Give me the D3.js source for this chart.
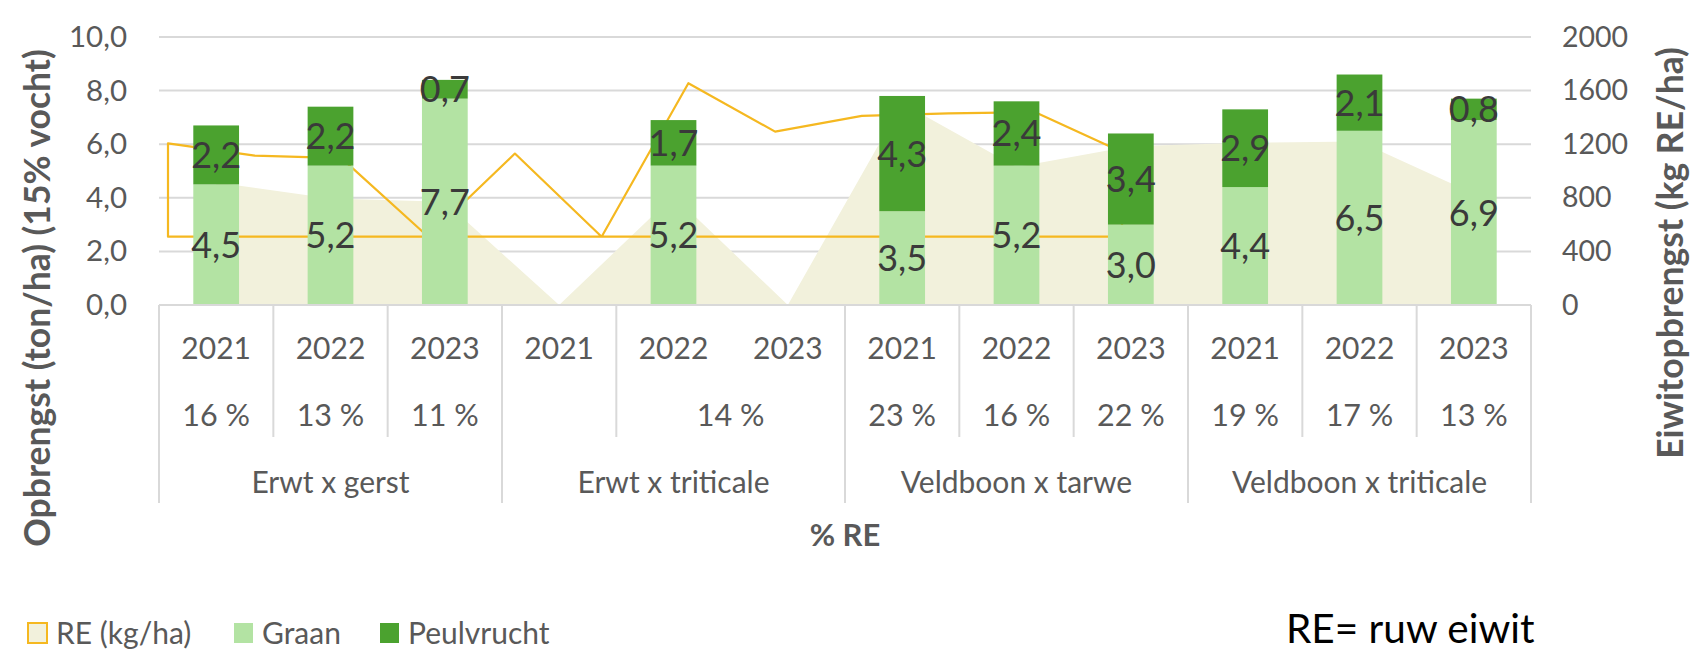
<!DOCTYPE html>
<html>
<head>
<meta charset="utf-8">
<script src="https://cdn.jsdelivr.net/npm/d3@7"></script>
<style>
  body { margin: 0; background: #fff; }
  text { font-family: Lato, "Open Sans", sans-serif; }
</style>
</head>
<body>
<script>
// categories (three levels: year, % RE, combination)
const years = ["2021", "2022", "2023", "2021", "2022", "2023", "2021", "2022", "2023", "2021", "2022", "2023"];
// null = same cell as the one before (merged label)
const pctLabels = ["16 %", "13 %", "11 %", "", "14 %", null, "23 %", "16 %", "22 %", "19 %", "17 %", "13 %"];
const groups = ["Erwt x gerst", "Erwt x triticale", "Veldboon x tarwe", "Veldboon x triticale"];

// series
const graan = [4.5, 5.2, 7.7, null, 5.2, null, 3.5, 5.2, 3.0, 4.4, 6.5, 6.9];
const peulvrucht = [2.2, 2.2, 0.7, null, 1.7, null, 4.3, 2.4, 3.4, 2.9, 2.1, 0.8];
const reKgHa = [915, 795, 770, 0, 815, 0, 1505, 1030, 1185, 1210, 1220, 830];

// ticks
const leftTicks = [0, 2, 4, 6, 8, 10];
const rightTicks = [0, 400, 800, 1200, 1600, 2000];

const width = 1705, height = 669;
const plotLeft = 159, plotRight = 1531, plotTop = 37, plotBottom = 305;
const grey = "#595959";

const svg = d3.select("body").append("svg")
    .attr("width", width)
    .attr("height", height);

const idx = d3.range(years.length);
const x = d3.scaleBand().domain(idx).range([plotLeft, plotRight]).paddingInner(0.6).paddingOuter(0.3);
const xMid = d3.scalePoint().domain(idx).range([plotLeft, plotRight]).padding(0.5);
const yL = d3.scaleLinear().domain([0, 10]).range([plotBottom, plotTop]);
const yR = d3.scaleLinear().domain([0, 2000]).range([plotBottom, plotTop]);

const comma = v => d3.format(".1f")(v).replace(".", ",");

// gridlines
svg.append("g").selectAll("line")
    .data(leftTicks)
    .enter().append("line")
    .attr("x1", plotLeft).attr("x2", plotRight)
    .attr("y1", d => yL(d)).attr("y2", d => yL(d))
    .attr("stroke", "#d9d9d9").attr("stroke-width", 2);

// RE area (right axis)
const area = d3.area()
    .x((d, i) => xMid(i))
    .y0(yR(0))
    .y1(d => yR(d));
svg.append("path")
    .datum(reKgHa)
    .attr("d", area)
    .attr("fill", "#f2f1dc");

// the yellow outline of the RE series sits shifted/squeezed in the original
const xOutline = d3.scalePoint().domain(idx).range([168, 1122]);
const yOutline = d3.scaleLinear().domain([0, 2000]).range([236.7, 32.7]);
const outline = d3.area()
    .x((d, i) => xOutline(i))
    .y0(yOutline(0))
    .y1(d => yOutline(d));
svg.append("path")
    .datum(reKgHa)
    .attr("d", outline)
    .attr("fill", "none")
    .attr("stroke", "#f5b820")
    .attr("stroke-width", 2.2)
    .attr("stroke-linejoin", "round");

// stacked bars
const rows = idx.map(i => ({ i: i, Graan: graan[i] || 0, Peulvrucht: peulvrucht[i] || 0 }));
const stack = d3.stack().keys(["Graan", "Peulvrucht"])(rows);
const colors = { Graan: "#b3e3a3", Peulvrucht: "#4ba22f" };

const layers = svg.selectAll("g.layer")
    .data(stack)
    .enter().append("g")
    .attr("class", "layer")
    .attr("fill", d => colors[d.key]);

layers.selectAll("rect")
    .data(d => d.filter(s => s[1] > s[0]))
    .enter().append("rect")
    .attr("x", d => x(d.data.i))
    .attr("width", x.bandwidth())
    .attr("y", d => yL(d[1]))
    .attr("height", d => yL(d[0]) - yL(d[1]));

layers.selectAll("text")
    .data(d => d.filter(s => s[1] > s[0]))
    .enter().append("text")
    .attr("x", d => x(d.data.i) + x.bandwidth() / 2)
    .attr("y", d => (yL(d[0]) + yL(d[1])) / 2)
    .attr("dy", "0.36em")
    .attr("text-anchor", "middle")
    .attr("fill", "#3a3a3a")
    .attr("font-size", 36)
    .text(d => comma(d[1] - d[0]));

// left axis
const axisL = svg.append("g")
    .attr("transform", `translate(${plotLeft},0)`)
    .call(d3.axisLeft(yL).tickValues(leftTicks).tickFormat(comma).tickSize(0).tickPadding(32));
axisL.select(".domain").remove();
axisL.selectAll("text").attr("font-size", 29.5).attr("fill", grey);
axisL.attr("font-family", null);

// right axis
const axisR = svg.append("g")
    .attr("transform", `translate(${plotRight},0)`)
    .call(d3.axisRight(yR).tickValues(rightTicks).tickFormat(d3.format("d")).tickSize(0).tickPadding(31));
axisR.select(".domain").remove();
axisR.selectAll("text").attr("font-size", 28.5).attr("fill", grey);
axisR.attr("font-family", null);

// category axis
svg.append("line")
    .attr("x1", plotLeft).attr("x2", plotRight)
    .attr("y1", plotBottom).attr("y2", plotBottom)
    .attr("stroke", "#d9d9d9").attr("stroke-width", 2);

const step = x.step();
const yearY = 348, pctY = 415, groupY = 482;
const pctBottom = 437, groupBottom = 503;

svg.append("g").selectAll("text")
    .data(years)
    .enter().append("text")
    .attr("x", (d, i) => xMid(i))
    .attr("y", yearY)
    .attr("dy", "0.36em")
    .attr("text-anchor", "middle")
    .attr("font-size", 30)
    .attr("fill", grey)
    .text(d => d);

// merge % cells
const pctCells = [];
pctLabels.forEach((d, i) => {
    if (d === null) pctCells[pctCells.length - 1].to = i;
    else pctCells.push({ label: d, from: i, to: i });
});

svg.append("g").selectAll("text")
    .data(pctCells)
    .enter().append("text")
    .attr("x", d => (xMid(d.from) + xMid(d.to)) / 2)
    .attr("y", pctY)
    .attr("dy", "0.36em")
    .attr("text-anchor", "middle")
    .attr("font-size", 30.5)
    .attr("fill", grey)
    .text(d => d.label);

const groupSize = years.length / groups.length;
svg.append("g").selectAll("text")
    .data(groups)
    .enter().append("text")
    .attr("x", (d, g) => plotLeft + (g + 0.5) * groupSize * step)
    .attr("y", groupY)
    .attr("dy", "0.36em")
    .attr("text-anchor", "middle")
    .attr("font-size", 30)
    .attr("fill", grey)
    .text(d => d);

// separators: short ones between % cells, long ones between groups
const sepShort = pctCells.slice(1).map(d => d.from).filter(i => i % groupSize !== 0);
svg.append("g").selectAll("line")
    .data(sepShort)
    .enter().append("line")
    .attr("x1", i => plotLeft + i * step).attr("x2", i => plotLeft + i * step)
    .attr("y1", plotBottom).attr("y2", pctBottom)
    .attr("stroke", "#d9d9d9").attr("stroke-width", 2);

svg.append("g").selectAll("line")
    .data(d3.range(groups.length + 1))
    .enter().append("line")
    .attr("x1", g => plotLeft + g * groupSize * step).attr("x2", g => plotLeft + g * groupSize * step)
    .attr("y1", plotBottom).attr("y2", groupBottom)
    .attr("stroke", "#d9d9d9").attr("stroke-width", 2);

// axis titles
svg.append("text")
    .attr("transform", `translate(37,298) rotate(-90)`)
    .attr("dy", "0.36em")
    .attr("text-anchor", "middle")
    .attr("font-size", 35.5)
    .attr("font-weight", "bold")
    .attr("fill", grey)
    .text("Opbrengst (ton/ha) (15% vocht)");

svg.append("text")
    .attr("transform", `translate(1670,253) rotate(-90)`)
    .attr("dy", "0.36em")
    .attr("text-anchor", "middle")
    .attr("font-size", 35.5)
    .attr("font-weight", "bold")
    .attr("fill", grey)
    .text("Eiwitopbrengst (kg RE/ha)");

svg.append("text")
    .attr("x", (plotLeft + plotRight) / 2)
    .attr("y", 535)
    .attr("dy", "0.36em")
    .attr("text-anchor", "middle")
    .attr("font-size", 31)
    .attr("font-weight", "bold")
    .attr("fill", grey)
    .text("% RE");

// legend
const legendItems = [
    { name: "RE (kg/ha)", fill: "#f2f1dc", stroke: "#f5b820", x: 27 },
    { name: "Graan", fill: colors.Graan, stroke: "none", x: 233 },
    { name: "Peulvrucht", fill: colors.Peulvrucht, stroke: "none", x: 379 }
];
const legend = svg.append("g").selectAll("g")
    .data(legendItems)
    .enter().append("g")
    .attr("transform", d => `translate(${d.x},633)`);
legend.append("rect")
    .attr("x", 1).attr("y", -10)
    .attr("width", 19).attr("height", 20)
    .attr("fill", d => d.fill)
    .attr("stroke", d => d.stroke)
    .attr("stroke-width", 2);
legend.append("text")
    .attr("x", 29)
    .attr("dy", "0.36em")
    .attr("font-size", 30)
    .attr("fill", grey)
    .text(d => d.name);

svg.append("text")
    .attr("x", 1286)
    .attr("y", 628)
    .attr("dy", "0.36em")
    .attr("font-size", 40.5)
    .attr("fill", "#000")
    .text("RE= ruw eiwit");
</script>
</body>
</html>
